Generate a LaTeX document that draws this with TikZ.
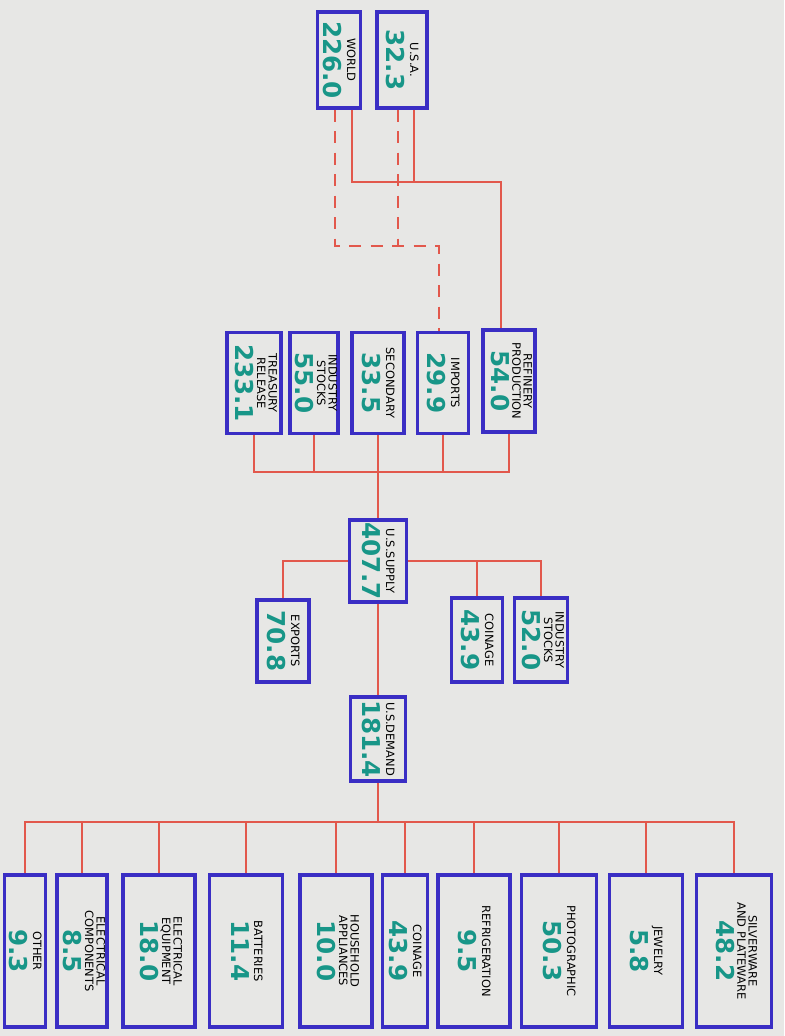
\documentclass[tikz,border=0pt]{standalone}
\usepackage{fontspec}
\setmainfont{DejaVu Sans}
\usepackage{graphicx}
\definecolor{paperColor}{RGB}{231,231,229}
\definecolor{markerBlue}{RGB}{58,46,196}
\definecolor{markerRed}{RGB}{226,88,76}
\definecolor{markerTeal}{RGB}{24,150,136}
\newcommand{\lbl}{\fontsize{6.5}{7}\selectfont}
\newcommand{\amt}{\fontsize{14}{15}\selectfont\bfseries\color{markerTeal}}
\newcommand{\entry}[2]{\rotatebox{-90}{\renewcommand{\arraystretch}{0.8}%
  \begin{tabular}{@{}c@{}}\lbl\begin{tabular}{@{}c@{}}#1\end{tabular}\\ \amt #2\end{tabular}}}

\begin{document}
\begin{tikzpicture}[x=0.2mm, y=-0.2mm,
    box/.style={draw=markerBlue, line width=1.8pt, inner sep=0pt},
    size/.style 2 args={minimum width=#1*0.2mm, minimum height=#2*0.2mm},
    wire/.style={markerRed, line width=1.5pt},
    dashwire/.style={wire, dash pattern=on 2.4mm off 1.9mm}]
                % Papel
                \fill[paperColor] (0,0) rectangle (784,1036);

                % Fuentes de plata
                \node[box, size={43}{96}] (world) at (339,60) {\entry{WORLD}{226.0}};
                \node[box, size={50}{96}] (usa) at (402,60) {\entry{U.S.A.}{32.3}};

                % Entradas del suministro
                \node[box, size={54}{101}] (treasury) at (254,383) {\entry{TREASURY\\RELEASE}{233.1}};
                \node[box, size={48}{101}] (stocksin) at (314,383) {\entry{INDUSTRY\\STOCKS}{55.0}};
                \node[box, size={52}{101}] (secondary) at (378,383) {\entry{SECONDARY}{33.5}};
                \node[box, size={51}{101}] (imports) at (443,383) {\entry{IMPORTS}{29.9}};
                \node[box, size={52}{102}] (refinery) at (509,381) {\entry{REFINERY\\PRODUCTION}{54.0}};

                % Suministro y salidas
                \node[box, size={57}{82}] (supply) at (378,561) {\entry{U.S.SUPPLY}{407.7}};
                \node[box, size={52}{82}] (exports) at (283,641) {\entry{EXPORTS}{70.8}};
                \node[box, size={51}{84}] (coinagein) at (477,640) {\entry{COINAGE}{43.9}};
                \node[box, size={53}{84}] (stocksout) at (541,640) {\entry{INDUSTRY\\STOCKS}{52.0}};

                % Demanda
                \node[box, size={55}{84}] (demand) at (378,739) {\entry{U.S.DEMAND}{181.4}};

                % Usos finales
                \node[box, size={40}{152}] (other) at (25,951) {\entry{OTHER}{9.3}};
                \node[box, size={50}{152}] (components) at (82,951) {\entry{ELECTRICAL\\COMPONENTS}{8.5}};
                \node[box, size={72}{152}] (equipment) at (159,951) {\entry{ELECTRICAL\\EQUIPMENT}{18.0}};
                \node[box, size={73}{152}] (batteries) at (246,951) {\entry{BATTERIES}{11.4}};
                \node[box, size={72}{152}] (household) at (336,951) {\entry{HOUSEHOLD\\APPLIANCES}{10.0}};
                \node[box, size={45}{152}] (coinageuse) at (405,951) {\entry{COINAGE}{43.9}};
                \node[box, size={72}{152}] (refrig) at (474,951) {\entry{REFRIGERATION}{9.5}};
                \node[box, size={75}{152}] (photo) at (559,951) {\entry{PHOTOGRAPHIC}{50.3}};
                \node[box, size={73}{152}] (jewelry) at (646,951) {\entry{JEWELRY}{5.8}};
                \node[box, size={75}{152}] (silver) at (734,951) {\entry{SILVERWARE\\AND PLATEWARE}{48.2}};

                % Puntos de union
                \coordinate (prodbus) at (501,182);
                \coordinate (impbus) at (439,246);
                \coordinate (worldtap) at (335,246);
                \coordinate (usatap) at (398,246);
                \coordinate (inbus) at (378,472);
                \coordinate (usebus) at (378,822);

                % Produccion de refineria (continua)
                \draw[wire] ([xshift=2.6mm]world.south) |- (prodbus) -- (refinery.north -| prodbus);
                \draw[wire] ([xshift=2.4mm]usa.south) |- (prodbus);

                % Importaciones (discontinua)
                \draw[dashwire] (world.south -| worldtap) -- (worldtap) -- (impbus) -- (imports.north -| impbus);
                \draw[dashwire] (usa.south -| usatap) -- (usatap);

                % Entradas al suministro
                \foreach \src in {treasury,stocksin,imports,refinery}
                    \draw[wire] (\src.south) |- (inbus);
                \draw[wire] (secondary.south) -- (supply.north);

                % Salidas del suministro
                \draw[wire] (supply.west) -| (exports.north);
                \draw[wire] (supply.east) -| (stocksout.north);
                \draw[wire] (coinagein.north) |- (supply.east);
                \draw[wire] (supply.south) -- (demand.north);

                % Demanda a usos finales
                \draw[wire] (demand.south) -- (usebus);
                \foreach \use in {other,components,equipment,batteries,household,coinageuse,refrig,photo,jewelry,silver}
                    \draw[wire] (\use.north) |- (usebus);
\end{tikzpicture}
\end{document}
